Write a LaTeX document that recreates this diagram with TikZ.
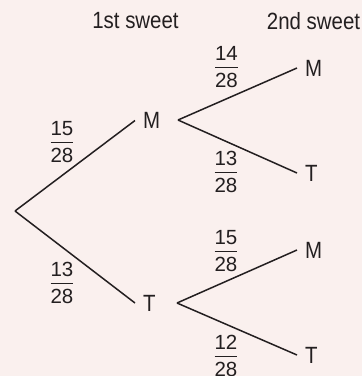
\documentclass[tikz,border=0pt]{standalone}
\usepackage{fontspec}
\setmainfont{Liberation Sans}
\newfontfamily\condfont[FakeStretch=0.87]{Liberation Sans}
\definecolor{paper}{RGB}{250,240,238}
\definecolor{ink}{RGB}{35,31,32}
\setlength{\arrayrulewidth}{1pt}
% stacked fraction: numerator, rule, denominator (baseline = numerator baseline)
\newcommand\stackfrac[2]{\begin{tabular}[t]{@{}c@{}}#1\\[-1.2pt]\hline\rule{0pt}{19.5pt}#2\end{tabular}}
\tikzset{
  branch/.style={draw=ink, line width=1.5pt, line cap=butt},
  outcome/.style={anchor=west, inner xsep=8pt, inner ysep=0pt, text=ink,
    font=\condfont\fontsize{23.5}{28}\selectfont},
  heading/.style={anchor=base, inner sep=0pt, text=ink,
    font=\condfont\fontsize{23.5}{28}\selectfont},
  prob/.style={anchor=base, inner sep=0pt, text=ink,
    font=\fontsize{20.5}{24}\selectfont},
}
\begin{document}
\begin{tikzpicture}[x=1pt,y=-1pt]
  \fill[paper] (0,0) rectangle (362,376);
  \useasboundingbox (0,0) rectangle (362,376);

  % column headings
  \node[heading] (h1) at (135.5,28.5) {1st sweet};
  \node[heading] (h2) at (313.5,29) {2nd sweet};

  % first pick
  \coordinate (root) at (15,211);
  \node[outcome] (m1) at (135,120.5) {M};
  \node[outcome] (t1) at (135,303) {T};
  \draw[branch] (root) -- (m1.west);
  \draw[branch] (root) -- (t1.west);

  % second pick after M
  \coordinate (forkM) at (178,120);
  \node[outcome] (mm) at (297,68) {M};
  \node[outcome] (mt) at (297,173) {T};
  \draw[branch] (forkM) -- (mm.west);
  \draw[branch] (forkM) -- (mt.west);

  % second pick after T
  \coordinate (forkT) at (177,303);
  \node[outcome] (tm) at (297,250) {M};
  \node[outcome] (tt) at (297,355) {T};
  \draw[branch] (forkT) -- (tm.west);
  \draw[branch] (forkT) -- (tt.west);

  % branch probabilities (positioned by numerator baseline)
  \node[prob] (pm1) at (62,135.5) {\stackfrac{15}{28}};
  \node[prob] (pt1) at (62,276.8) {\stackfrac{13}{28}};
  \node[prob] (pmm) at (226.5,60.5) {\stackfrac{14}{28}};
  \node[prob] (pmt) at (226,165.8) {\stackfrac{13}{28}};
  \node[prob] (ptm) at (226,244.5) {\stackfrac{15}{28}};
  \node[prob] (ptt) at (226,349.5) {\stackfrac{12}{28}};
\end{tikzpicture}
\end{document}
